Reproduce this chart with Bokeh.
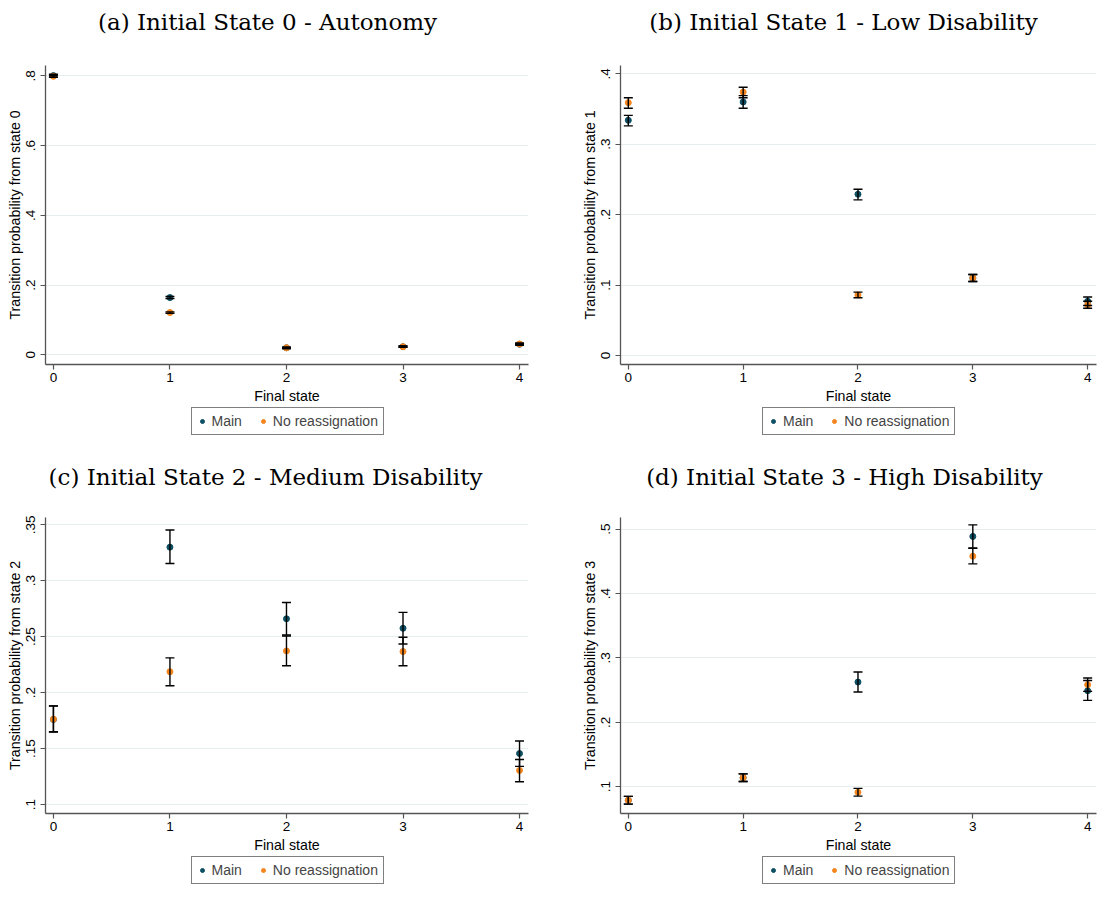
from bokeh.plotting import figure
from bokeh.models import (ColumnDataSource, Whisker, TeeHead, FixedTicker, Legend,
                          LegendItem, Range1d, Label)
from bokeh.layouts import column, row
from bokeh.embed import file_html
from bokeh.resources import INLINE

# ---------------- data ----------------
final_states = [0, 1, 2, 3, 4]
x_tick_labels = ["0", "1", "2", "3", "4"]

titles = ["(a) Initial State 0 - Autonomy",
          "(b) Initial State 1 - Low Disability",
          "(c) Initial State 2 - Medium Disability",
          "(d) Initial State 3 - High Disability"]
y_axis_labels = ["Transition probability from state 0",
                 "Transition probability from state 1",
                 "Transition probability from state 2",
                 "Transition probability from state 3"]
x_axis_label = "Final state"
series_names = ["Main", "No reassignation"]

# state 0
s0_main = [0.801, 0.164, 0.020, 0.023, 0.030]
s0_main_lo = [0.797, 0.161, 0.018, 0.021, 0.027]
s0_main_hi = [0.805, 0.167, 0.022, 0.025, 0.033]
s0_nr = [0.799, 0.121, 0.020, 0.023, 0.031]
s0_nr_lo = [0.796, 0.119, 0.018, 0.021, 0.029]
s0_nr_hi = [0.802, 0.123, 0.022, 0.025, 0.033]
s0_yticks = [0, 0.2, 0.4, 0.6, 0.8]
s0_ylabels = ["0", ".2", ".4", ".6", ".8"]

# state 1
s1_main = [0.334, 0.360, 0.229, 0.110, 0.077]
s1_main_lo = [0.326, 0.351, 0.221, 0.105, 0.071]
s1_main_hi = [0.341, 0.369, 0.236, 0.115, 0.083]
s1_nr = [0.359, 0.374, 0.086, 0.110, 0.072]
s1_nr_lo = [0.351, 0.366, 0.082, 0.105, 0.067]
s1_nr_hi = [0.366, 0.381, 0.090, 0.115, 0.077]
s1_yticks = [0, 0.1, 0.2, 0.3, 0.4]
s1_ylabels = ["0", ".1", ".2", ".3", ".4"]

# state 2
s2_main = [0.176, 0.330, 0.266, 0.2575, 0.1456]
s2_main_lo = [0.165, 0.3154, 0.2515, 0.2435, 0.1341]
s2_main_hi = [0.188, 0.3453, 0.2805, 0.2717, 0.1568]
s2_nr = [0.1763, 0.2187, 0.2373, 0.2367, 0.1305]
s2_nr_lo = [0.1648, 0.2062, 0.224, 0.224, 0.1204]
s2_nr_hi = [0.1882, 0.2311, 0.2506, 0.2495, 0.1403]
s2_yticks = [0.1, 0.15, 0.2, 0.25, 0.3, 0.35]
s2_ylabels = [".1", ".15", ".2", ".25", ".3", ".35"]

# state 3
s3_main = [0.079, 0.114, 0.2625, 0.4886, 0.249]
s3_main_lo = [0.073, 0.108, 0.247, 0.4707, 0.234]
s3_main_hi = [0.085, 0.120, 0.278, 0.5066, 0.265]
s3_nr = [0.079, 0.114, 0.0914, 0.4578, 0.2584]
s3_nr_lo = [0.073, 0.108, 0.0854, 0.446, 0.248]
s3_nr_hi = [0.085, 0.120, 0.0974, 0.470, 0.2687]
s3_yticks = [0.1, 0.2, 0.3, 0.4, 0.5]
s3_ylabels = [".1", ".2", ".3", ".4", ".5"]

# ---------------- style ----------------
MAIN_COLOR = "#0e4f63"
NR_COLOR = "#f5861f"
GRID_COLOR = "#e6eff0"
AXIS_COLOR = "#555555"
SANS = "Liberation Sans"
SERIF = "DejaVu Serif"

X_RANGE = (-0.068, 4.077)
LEGEND_W = 192


def blank_fig(width, height, b_left, b_right):
    fw = width - b_left - b_right
    f = figure(width=width, height=height, x_range=Range1d(0, fw),
               y_range=Range1d(0, height), output_backend="svg",
               toolbar_location=None, x_axis_location=None, y_axis_location=None,
               min_border_left=b_left, min_border_right=b_right,
               min_border_top=0, min_border_bottom=0)
    f.outline_line_color = None
    f.xgrid.visible = False
    f.ygrid.visible = False
    f.background_fill_color = "white"
    f.border_fill_color = "white"
    return f


def header_fig(title, width, height, b_left, b_right, cx, cy_from_top):
    f = blank_fig(width, height, b_left, b_right)
    f.add_layout(Label(x=cx, y=height - cy_from_top, text=title,
                       text_align="center", text_baseline="middle",
                       text_font=SERIF, text_font_size="23px",
                       text_color="black"))
    return f


def legend_fig(width, height, b_left, b_right, bottom_gap):
    f = blank_fig(width, height, b_left, b_right)
    fw = width - b_left - b_right
    # proxy renderers (kept outside the visible area) that give the legend its glyphs
    r1 = f.scatter(x=[-1000], y=[-1000], size=6, fill_color=MAIN_COLOR, line_color=MAIN_COLOR)
    r2 = f.scatter(x=[-1000], y=[-1000], size=6, fill_color=NR_COLOR, line_color=NR_COLOR)
    legend = Legend(items=[LegendItem(label=series_names[0], renderers=[r1]),
                           LegendItem(label=series_names[1], renderers=[r2])],
                    orientation="horizontal",
                    location=(fw / 2 - LEGEND_W / 2, bottom_gap),
                    border_line_color="black", border_line_width=1,
                    background_fill_color="white", background_fill_alpha=1,
                    label_text_font=SANS, label_text_font_size="14px",
                    glyph_width=10, glyph_height=10, label_standoff=5,
                    spacing=16, padding=5, margin=0, label_height=14)
    f.add_layout(legend)
    return f


def main_fig(ylab, main, main_lo, main_hi, nr, nr_lo, nr_hi,
             yticks, ylabels, yrange, width, height, b_left, b_right, b_top, b_bottom):
    p = figure(width=width, height=height,
               x_range=Range1d(*X_RANGE), y_range=Range1d(*yrange),
               output_backend="svg", toolbar_location=None,
               min_border_left=b_left, min_border_right=b_right,
               min_border_top=b_top, min_border_bottom=b_bottom)
    p.outline_line_color = None
    p.background_fill_color = "white"
    p.border_fill_color = "white"

    src_main = ColumnDataSource(dict(x=final_states, y=main, lo=main_lo, hi=main_hi))
    src_nr = ColumnDataSource(dict(x=final_states, y=nr, lo=nr_lo, hi=nr_hi))

    p.scatter("x", "y", source=src_main, size=6,
              fill_color=MAIN_COLOR, line_color=MAIN_COLOR)
    p.scatter("x", "y", source=src_nr, size=6,
              fill_color=NR_COLOR, line_color=NR_COLOR)

    for src in (src_main, src_nr):
        w = Whisker(source=src, base="x", upper="hi", lower="lo",
                    dimension="height", line_color="black", line_width=1.4,
                    upper_head=TeeHead(size=9, line_color="black", line_width=1.4),
                    lower_head=TeeHead(size=9, line_color="black", line_width=1.4),
                    level="overlay")
        p.add_layout(w)

    p.xaxis.ticker = FixedTicker(ticks=final_states)
    p.xaxis.major_label_overrides = {t: l for t, l in zip(final_states, x_tick_labels)}
    p.xaxis.axis_label = x_axis_label
    p.yaxis.ticker = FixedTicker(ticks=yticks)
    p.yaxis.major_label_overrides = {t: l for t, l in zip(yticks, ylabels)}
    p.yaxis.axis_label = ylab
    p.yaxis.major_label_orientation = "vertical"
    for ax in (p.xaxis, p.yaxis):
        ax.axis_line_color = AXIS_COLOR
        ax.axis_line_width = 1.3
        ax.major_tick_line_color = AXIS_COLOR
        ax.major_tick_line_width = 1.2
        ax.major_tick_out = 5
        ax.major_tick_in = 0
        ax.minor_tick_out = 0
        ax.minor_tick_in = 0
        ax.major_label_text_font = SANS
        ax.major_label_text_font_size = "13.5px"
        ax.major_label_text_color = "black"
        ax.axis_label_text_font = SANS
        ax.axis_label_text_font_size = "14.2px"
        ax.axis_label_text_font_style = "normal"
        ax.axis_label_text_color = "black"
    p.xaxis.major_label_standoff = 3
    p.xaxis.axis_label_standoff = 3
    p.yaxis.major_label_standoff = 5
    p.yaxis.axis_label_standoff = 1

    p.xgrid.visible = False
    p.ygrid.grid_line_color = GRID_COLOR
    p.ygrid.grid_line_width = 1.2
    return p


def panel(i, main, main_lo, main_hi, nr, nr_lo, nr_hi, yticks, ylabels, yrange,
          width, b_left, b_right, head_h, title_cx, title_cy, main_h, b_top,
          leg_h, leg_gap):
    b_bottom = 42
    head = header_fig(titles[i], width, head_h, b_left, b_right, title_cx, title_cy)
    body = main_fig(y_axis_labels[i], main, main_lo, main_hi, nr, nr_lo, nr_hi,
                    yticks, ylabels, yrange, width, main_h, b_left, b_right,
                    b_top, b_bottom)
    leg = legend_fig(width, leg_h, b_left, b_right, leg_gap)
    return column(head, body, leg)


pa = panel(0, s0_main, s0_main_lo, s0_main_hi, s0_nr, s0_nr_lo, s0_nr_hi,
           s0_yticks, s0_ylabels, (-0.028, 0.83),
           564, 45, 36, 40, 222, 21, 366, 25, 40, 11)
pb = panel(1, s1_main, s1_main_lo, s1_main_hi, s1_nr, s1_nr_lo, s1_nr_hi,
           s1_yticks, s1_ylabels, (-0.0128, 0.4118),
           538, 56, 6, 40, 223, 21, 366, 25, 40, 11)
pc = panel(2, s2_main, s2_main_lo, s2_main_hi, s2_nr, s2_nr_lo, s2_nr_hi,
           s2_yticks, s2_ylabels, (0.092, 0.3565),
           564, 45, 36, 44, 220, 30, 365, 27, 33, 4)
pd_ = panel(3, s3_main, s3_main_lo, s3_main_hi, s3_nr, s3_nr_lo, s3_nr_hi,
            s3_yticks, s3_ylabels, (0.0584, 0.518),
            538, 56, 6, 44, 224, 30, 365, 27, 33, 4)

layout = column(row(pa, pb), row(pc, pd_))
open("out.html", "w").write(file_html(layout, INLINE))
